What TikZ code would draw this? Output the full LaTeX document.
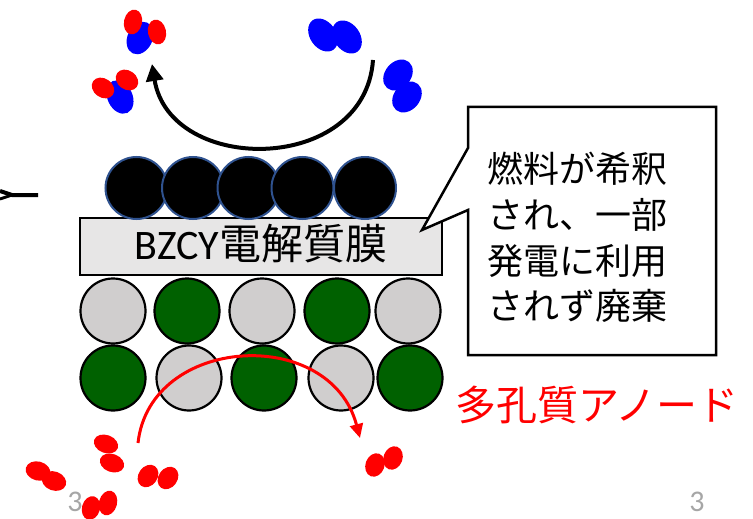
\documentclass[tikz,border=0pt]{standalone}
\usepackage{fontspec}
\setmainfont{Carlito}
\newfontfamily\jp{Noto Sans CJK JP}
\usetikzlibrary{arrows.meta}
\definecolor{molred}{RGB}{255,0,0}
\definecolor{molblue}{RGB}{0,0,255}
\definecolor{anodegreen}{RGB}{0,97,0}
\definecolor{anodegray}{RGB}{208,206,206}
\definecolor{filmgray}{RGB}{231,230,230}
\definecolor{ringblue}{RGB}{47,82,143}
\definecolor{pagegray}{RGB}{166,166,166}
% one atom of a gas molecule: colour, centre, x radius, y radius, tilt
\newcommand\molatom[5]{\fill[#1,rotate around={#5:(#2)}] (#2) ellipse [x radius=#3,y radius=#4];}
\begin{document}
\begin{tikzpicture}[x=1pt,y=-1pt,
  cathode/.style={circle,fill=black,draw=ringblue,line width=2pt,minimum size=62pt,inner sep=0pt},
  grain/.style={circle,draw=black,line width=2.2pt,minimum size=65pt,inner sep=0pt},
  graygrain/.style={grain,fill=anodegray},
  greengrain/.style={grain,fill=anodegreen},
  flow/.style={line width=4pt,-{Triangle[length=17pt,width=17pt]}},
  exhaust/.style={molred,line width=3pt,-{Triangle[length=14pt,width=13pt]}},
  pagenum/.style={text=pagegray,font=\fontsize{30}{30}\selectfont,inner sep=0pt}]
\useasboundingbox (0,0) rectangle (753,519);

% page numbers
\node[pagenum] (pgleft) at (75,502) {3};
\node[pagenum] (pgright) at (697,502) {3};

% arrow stub entering from the left
\coordinate (stubA) at (0,191);
\coordinate (stubB) at (0,199);
\coordinate (stubJ) at (12,195);
\coordinate (stubE) at (38,195);
\draw[line width=4pt] (stubA) -- (stubJ) -- (stubE);
\draw[line width=3pt] (stubB) -- (stubJ);

% electrolyte film
\node[draw=black,fill=filmgray,line width=2.5pt,minimum width=362pt,minimum height=57pt,inner sep=0pt]
  (film) at (261,246.5) {};
\node[font=\fontsize{42}{42}\selectfont,inner sep=0pt] (filmlabel) at (261,243.5) {BZCY{\jp 電解質膜}};

% cathode particles
\node[cathode] (c1) at (136.5,188) {};
\node[cathode] (c2) at (193,188) {};
\node[cathode] (c3) at (248.5,188) {};
\node[cathode] (c4) at (302.5,188) {};
\node[cathode] (c5) at (365,188) {};

% porous anode, two rows of particles
\node[graygrain]  (a11) at (113,311) {};
\node[greengrain] (a12) at (187,311) {};
\node[graygrain]  (a13) at (262,311) {};
\node[greengrain] (a14) at (337,311) {};
\node[graygrain]  (a15) at (408,311) {};
\node[greengrain] (a21) at (113,378) {};
\node[graygrain]  (a22) at (189,378) {};
\node[greengrain] (a23) at (264,378) {};
\node[graygrain]  (a24) at (341,378) {};
\node[greengrain] (a25) at (410,378) {};

% speech bubble
\draw[line width=2.5pt,fill=white,line join=miter]
  (468,107) -- (716,107) -- (716,355) -- (468,355) -- (468,210) -- (422,230) -- (468,148) -- cycle;
\node[anchor=north west,align=left,inner sep=0pt,font=\jp\fontsize{36}{45.7}\selectfont]
  (note) at (487,152) {燃料が希釈\\され、一部\\発電に利用\\されず廃棄};

% anode label
\node[anchor=west,inner sep=0pt,text=molred,font=\jp\fontsize{41}{41}\selectfont]
  (anodelabel) at (455,405) {多孔質アノード};

% gas flow over the cathode
\coordinate (topS) at (373,60);
\coordinate (topE) at (152,64);
\draw[flow] (topS) .. controls (365,175) and (170,175) .. (topE);

% fuel flow through the anode
\coordinate (fuelS) at (138,443);
\coordinate (fuelE) at (360,438);
\draw[exhaust] (fuelS) .. controls (150,335) and (330,325) .. (fuelE);

% molecules above the cathode
\molatom{molblue}{140,38}{12.5}{17}{-25}
\molatom{molred}{133,22}{9}{12.5}{-12}
\molatom{molred}{157,32}{9}{12.5}{12}
\molatom{molblue}{120,97}{12.5}{17.5}{25}
\molatom{molred}{103,88}{12}{9.5}{-35}
\molatom{molred}{127,80}{12}{9.5}{-35}
\molatom{molblue}{323,35}{13}{18}{35}
\molatom{molblue}{347,37}{13}{18}{35}
\molatom{molblue}{398,75}{13}{17}{-40}
\molatom{molblue}{407,97}{13}{17}{-40}

% molecules below the anode
\molatom{molred}{106,444}{12.5}{9}{-20}
\molatom{molred}{112,463}{12.5}{9}{-20}
\molatom{molred}{38,471}{12.5}{9.5}{-15}
\molatom{molred}{54,481}{12.5}{9.5}{-20}
\molatom{molred}{148,476}{9.5}{12}{-35}
\molatom{molred}{168,478}{9.5}{12}{-35}
\molatom{molred}{91,508}{9}{12}{-15}
\molatom{molred}{108,503}{9}{12.5}{-15}
\molatom{molred}{375,465}{9.5}{12}{-20}
\molatom{molred}{393,458}{9.5}{12}{-20}
\end{tikzpicture}
\end{document}
